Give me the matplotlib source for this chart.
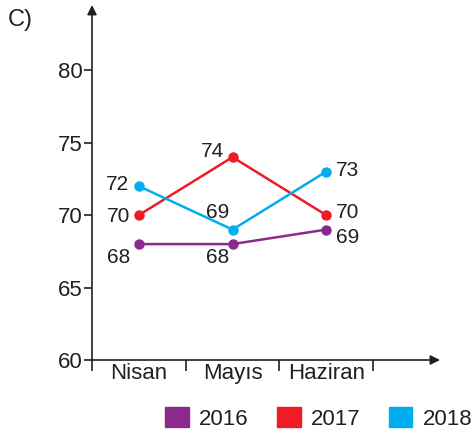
import matplotlib.pyplot as plt
from matplotlib.patches import Patch

plt.rcParams['font.family'] = ['Liberation Sans', 'DejaVu Sans']

months = ['Nisan', 'Mayıs', 'Haziran']
years = ['2016', '2017', '2018']
values_2016 = [68, 68, 69]
values_2017 = [70, 74, 70]
values_2018 = [72, 69, 73]
y_ticks = [60, 65, 70, 75, 80]

colors = {'2016': '#8B2A8E', '2017': '#EE1C25', '2018': '#00AEEF'}
text_color = '#231F20'

# label offsets (points) per series and month
offsets = {
    '2016': [(-6, -10, 'right'), (-2, -10, 'right'), (7, -6, 'left')],
    '2017': [(-6, -1, 'right'), (-6, 4, 'right'), (7, 2, 'left')],
    '2018': [(-7, 1, 'right'), (-11, 12, 'center'), (7, 1, 'left')],
}

fig = plt.figure(figsize=(4.72, 4.37), dpi=100)
ax = fig.add_axes([92 / 472, 77 / 437, 348 / 472, 355 / 437])

x = list(range(len(months)))
series = {'2016': values_2016, '2017': values_2017, '2018': values_2018}
for year in years:
    vals = series[year]
    ax.plot(x, vals, color=colors[year], lw=1.8, marker='o', ms=6.5,
            solid_capstyle='round', zorder=3)
    for xi, v, (dx, dy, ha) in zip(x, vals, offsets[year]):
        ax.annotate(str(v), (xi, v), xytext=(dx, dy), textcoords='offset points',
                    ha=ha, va='center', fontsize=15, color=text_color)

ax.set_xlim(-0.5, 3.215)
ax.set_ylim(60, 84.5)

for s in ax.spines.values():
    s.set_visible(False)

# axes drawn as arrows
arrow = dict(arrowstyle='-|>', color=text_color, lw=1.2, mutation_scale=14,
             shrinkA=0, shrinkB=0)
ax.annotate('', xy=(0, 1.0), xytext=(0, 0), xycoords='axes fraction', arrowprops=arrow)
ax.annotate('', xy=(1.0, 0), xytext=(0, 0), xycoords='axes fraction', arrowprops=arrow)

ax.set_yticks(y_ticks)
ax.set_yticklabels([str(t) for t in y_ticks])
ax.tick_params(axis='y', direction='out', length=6, width=1.2, color=text_color,
               labelsize=16, labelcolor=text_color, pad=1)

ax.set_xticks([-0.5, 0.5, 1.5, 2.5])
ax.set_xticklabels([])
ax.set_xticks(x, minor=True)
ax.set_xticklabels(months, minor=True)
ax.tick_params(axis='x', which='major', direction='out', length=8, width=1.2,
               color=text_color)
ax.tick_params(axis='x', which='minor', length=0, labelsize=16,
               labelcolor=text_color, pad=2)

fig.text(8 / 472, 1 - 20 / 437, 'C)', fontsize=17, color=text_color, va='center')

handles = [Patch(color=colors[y], label=y) for y in years]
fig.legend(handles=handles, loc='lower right', bbox_to_anchor=(1.0, 7 / 437),
           ncol=3, frameon=False, fontsize=16, handlelength=1.05, handleheight=1.0,
           handletextpad=0.45, columnspacing=1.3, borderpad=0, borderaxespad=0,
           labelcolor=text_color)

fig.savefig('out.png', dpi=100)
